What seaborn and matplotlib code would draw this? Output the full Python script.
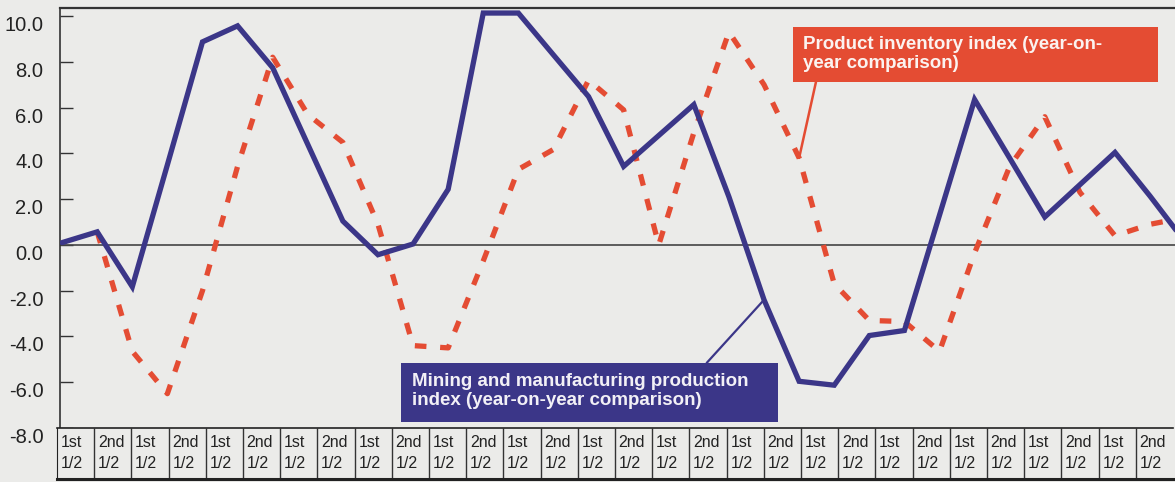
import numpy as np
import pandas as pd
import matplotlib
matplotlib.use("Agg")
import matplotlib.pyplot as plt
from matplotlib.patches import Rectangle
import seaborn as sns

# half-year periods (x index) and the two year-on-year series
periods = np.arange(33)
production = [0.1, 0.57, -1.83, 3.5, 8.87, 9.57, 7.74, 4.39, 1.04, -0.43,
              0.04, 2.43, 10.13, 10.13, 8.3, 6.48, 3.43, 4.78, 6.13, 2.1,
              -2.4, -5.96, -6.13, -3.96, -3.74, 1.3, 6.35, 3.79, 1.22, 2.63,
              4.04, 2.13, 0.12]
inventory = [np.nan, 0.57, -4.65, -6.5, -2.0, 3.43, 8.2, 5.7, 4.48, 0.9,
             -4.4, -4.5, -0.7, 3.3, 4.17, 7.2, 5.9, 0.0, 4.9, 9.3,
             7.0, 3.8, -1.7, -3.3, -3.35, -4.65, -0.35, 3.43, 5.6, 2.3,
             0.4, 0.9, 1.2]

# table under the chart
half_labels = ["1st", "2nd"] * 15
half_sub = ["1/2"] * 30

ytick_vals = [-8, -6, -4, -2, 0, 2, 4, 6, 8, 10]
ytick_labels = ["-8.0", "-6.0", "-4.0", "-2.0", "0.0", "2.0", "4.0", "6.0", "8.0", "10.0"]

navy = "#3b3688"
red = "#e44c33"
bg = "#ebebe9"

sns.set_style("white")
plt.rcParams["font.family"] = ["Liberation Sans", "DejaVu Sans"]

df = pd.DataFrame({"period": periods, "production": production, "inventory": inventory})

fig = plt.figure(figsize=(11.75, 4.82), dpi=100)
fig.patch.set_facecolor(bg)
ax = fig.add_axes([60 / 1175, 54 / 482, 1115 / 1175, 420 / 482])
ax.set_facecolor(bg)

ax.axhline(0, color="#444444", lw=1.2, zorder=1)

inv = df.dropna(subset=["inventory"])
sns.lineplot(data=inv, x="period", y="inventory", ax=ax, color=red, linewidth=3.8,
             linestyle=(0, (2.2, 2.6)), zorder=2)
sns.lineplot(data=df, x="period", y="production", ax=ax, color=navy, linewidth=3.8,
             solid_joinstyle="miter", zorder=3)

ax.set_xlim(-0.06, 31.71)
ax.set_ylim(-8, 10.35)
ax.set_xticks([])
ax.set_yticks(ytick_vals)
ax.set_yticklabels(ytick_labels, va="top")
ax.tick_params(axis="y", direction="in", length=9, width=1, color="#333333",
               labelsize=14.5, labelcolor="#222222", pad=12, left=True)
ax.set_xlabel("")
ax.set_ylabel("")
for side in ["right", "bottom"]:
    ax.spines[side].set_visible(False)
ax.spines["top"].set_color("#333333")
ax.spines["top"].set_linewidth(1.6)
ax.spines["left"].set_color("#333333")
ax.spines["left"].set_linewidth(1.2)

# red label box for the inventory index
ax.add_patch(Rectangle((0.657, 0.824), 0.328, 0.131, transform=ax.transAxes,
                       facecolor=red, edgecolor="none", zorder=5))
ax.text(0.666, 0.890, "Product inventory index (year-on-\nyear comparison)",
        transform=ax.transAxes, ha="left", va="center", color="#fbf3f0",
        fontsize=13.5, fontweight="bold", linespacing=1.12, zorder=6)
ax.annotate("", xy=(21, inventory[21]), xytext=(0.678, 0.824),
            textcoords="axes fraction",
            arrowprops=dict(arrowstyle="-", color=red, lw=1.8, shrinkA=0, shrinkB=0),
            zorder=4)

# navy label box for the production index
ax.add_patch(Rectangle((0.306, 0.014), 0.338, 0.141, transform=ax.transAxes,
                       facecolor=navy, edgecolor="none", zorder=5))
ax.text(0.316, 0.088, "Mining and manufacturing production\nindex (year-on-year comparison)",
        transform=ax.transAxes, ha="left", va="center", color="#f2f0f6",
        fontsize=13.5, fontweight="bold", linespacing=1.12, zorder=6)
ax.annotate("", xy=(20, production[20]), xytext=(0.580, 0.155),
            textcoords="axes fraction",
            arrowprops=dict(arrowstyle="-", color=navy, lw=1.6, shrinkA=0, shrinkB=0),
            zorder=4)

# half-year table below the plot
tax = fig.add_axes([57 / 1175, 3 / 482, 1116 / 1175, 51 / 482])
tax.set_facecolor(bg)
tax.set_xlim(0, 30)
tax.set_ylim(0, 1)
tax.set_xticks([])
tax.set_yticks([])
tax.vlines(np.arange(1, 30), 0, 1, color="#333333", lw=1)
for side in ["left", "right", "top", "bottom"]:
    tax.spines[side].set_color("#222222")
tax.spines["right"].set_visible(False)
tax.spines["top"].set_linewidth(1.2)
tax.spines["bottom"].set_linewidth(2.2)
for i, (a, b) in enumerate(zip(half_labels, half_sub)):
    tax.text(i + 0.1, 0.72, a, ha="left", va="center", fontsize=11.5, color="#222222")
    tax.text(i + 0.1, 0.30, b, ha="left", va="center", fontsize=11.5, color="#222222")

fig.savefig("out.png", dpi=100, facecolor=bg)
